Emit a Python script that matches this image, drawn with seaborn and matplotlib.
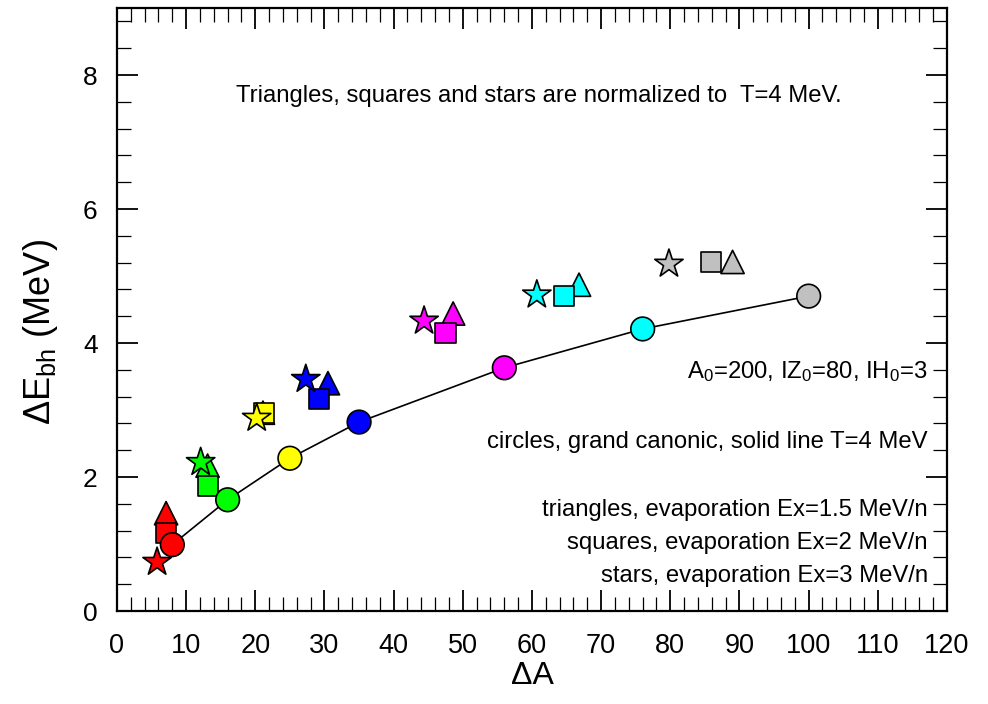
import matplotlib
matplotlib.use("Agg")
import matplotlib.pyplot as plt
from matplotlib.ticker import MultipleLocator
import seaborn as sns
import pandas as pd

sns.set_theme(style="white")
plt.rcParams["font.family"] = ["Liberation Sans", "DejaVu Sans"]
plt.rcParams["mathtext.fontset"] = "custom"
plt.rcParams["mathtext.rm"] = "Liberation Sans"
plt.rcParams["mathtext.it"] = "Liberation Sans:italic"
plt.rcParams["text.color"] = "black"
plt.rcParams["axes.labelcolor"] = "black"
plt.rcParams["xtick.color"] = "black"
plt.rcParams["ytick.color"] = "black"

# Colour of each fragment group
colors = ["#ff0000", "#00ff00", "#ffff00", "#0000ff", "#ff00ff", "#00ffff", "#c0c0c0"]

# Grand canonic, T = 4 MeV (circles + solid line)
circ_x = [8, 16, 25, 35, 56, 76, 100]
circ_y = [0.99, 1.66, 2.28, 2.82, 3.63, 4.21, 4.70]

# Evaporation Ex = 1.5 MeV/n (triangles)
tri_x = [7.1, 13.1, 21.1, 30.5, 48.6, 66.8, 89.0]
tri_y = [1.46, 2.17, 2.96, 3.40, 4.44, 4.87, 5.21]

# Evaporation Ex = 2 MeV/n (squares)
sq_x = [7.1, 13.1, 21.2, 29.2, 47.5, 64.6, 85.9]
sq_y = [1.16, 1.87, 2.95, 3.16, 4.15, 4.70, 5.21]

# Evaporation Ex = 3 MeV/n (stars)
star_x = [5.8, 12.1, 20.2, 27.3, 44.4, 60.7, 79.8]
star_y = [0.73, 2.22, 2.88, 3.46, 4.33, 4.72, 5.18]

groups = [str(i) for i in range(len(colors))]
palette = dict(zip(groups, colors))

fig = plt.figure(figsize=(9.88, 7.04), dpi=100)
ax = fig.add_axes([0.1184, 0.1321, 0.8401, 0.8565])

line_df = pd.DataFrame({"x": circ_x, "y": circ_y})
sns.lineplot(data=line_df, x="x", y="y", color="black", lw=1.2, sort=True,
             estimator=None, ax=ax, zorder=2)

sets = [
    (tri_x, tri_y, "^", 280),
    (sq_x, sq_y, "s", 210),
    (star_x, star_y, "*", 460),
    (circ_x, circ_y, "o", 290),
]
for xs, ys, mk, sz in sets:
    df = pd.DataFrame({"x": xs, "y": ys, "g": groups})
    sns.scatterplot(data=df, x="x", y="y", hue="g", palette=palette, marker=mk,
                    s=sz, edgecolor="black", linewidth=1.2, legend=False,
                    ax=ax, zorder=3)

ax.set_xlim(0, 120)
ax.set_ylim(0, 9)
ax.xaxis.set_major_locator(MultipleLocator(10))
ax.xaxis.set_minor_locator(MultipleLocator(2))
ax.yaxis.set_major_locator(MultipleLocator(2))
ax.yaxis.set_minor_locator(MultipleLocator(0.4))
ax.tick_params(which="both", direction="in", top=True, right=True,
               bottom=True, left=True, color="black")
ax.tick_params(which="major", length=15, width=1.3)
ax.tick_params(which="minor", length=10, width=0.9)
ax.tick_params(axis="x", which="major", pad=16, labelsize=19.5)
ax.tick_params(axis="y", which="major", pad=14, labelsize=19)
for sp in ax.spines.values():
    sp.set_color("black")
    sp.set_linewidth(1.6)

ax.set_xlabel("ΔA", fontsize=23, labelpad=1)
ax.set_ylabel("ΔE$_{\\rm bh}$ (MeV)", fontsize=26)
ax.yaxis.set_label_coords(-0.069, 0.463)

fs = 17.2
ax.text(61, 7.68, "Triangles, squares and stars are normalized to  T=4 MeV.",
        ha="center", va="center", fontsize=fs)
ax.text(117.2, 3.57, "A$_0$=200, IZ$_0$=80, IH$_0$=3", ha="right", va="center", fontsize=fs)
ax.text(117.2, 2.52, "circles, grand canonic, solid line T=4 MeV", ha="right", va="center", fontsize=fs)
ax.text(117.2, 1.51, "triangles, evaporation Ex=1.5 MeV/n", ha="right", va="center", fontsize=fs)
ax.text(117.2, 1.01, "squares, evaporation Ex=2 MeV/n", ha="right", va="center", fontsize=fs)
ax.text(117.2, 0.52, "stars, evaporation Ex=3 MeV/n", ha="right", va="center", fontsize=fs)

fig.savefig("out.png", dpi=100)
